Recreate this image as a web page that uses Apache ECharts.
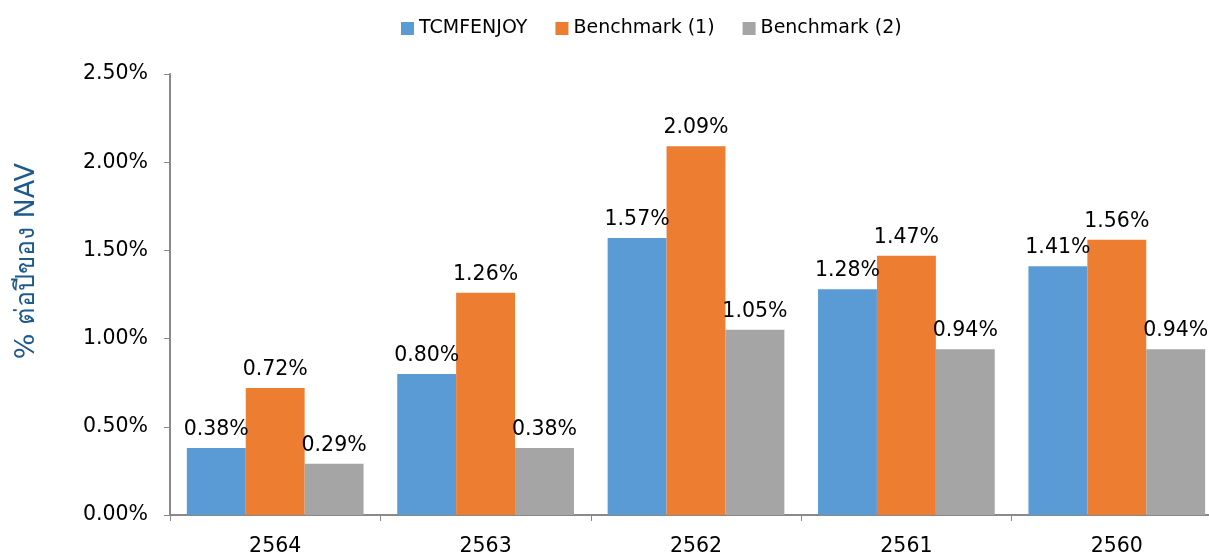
<!DOCTYPE html>
<html><head><meta charset="utf-8">
<script src="https://cdn.jsdelivr.net/npm/echarts@6/dist/echarts.min.js"></script>
<style>html,body{margin:0;padding:0;background:#fff}#c{width:1209px;height:552px}</style>
</head><body><div id="c"></div>
<script>
const categories = ['2564','2563','2562','2561','2560'];
const seriesNames = ['TCMFENJOY','Benchmark (1)','Benchmark (2)'];
const fundValues = [0.38, 0.80, 1.57, 1.28, 1.41];
const bench1Values = [0.72, 1.26, 2.09, 1.47, 1.56];
const bench2Values = [0.29, 0.38, 1.05, 0.94, 0.94];
const colors = ['#5B9BD5','#ED7D31','#A5A5A5'];
const FONT = 'DejaVu Sans';

const chart = echarts.init(document.getElementById('c'), null, {renderer:'canvas'});
const mk = (name, data, color) => ({
  name, type:'bar', data, barGap:'0%', barCategoryGap:'16%',
  itemStyle:{color},
  label:{show:true, position:'top', distance:8, color:'#000', fontFamily:FONT, fontSize:20.5,
    formatter:p=>p.value.toFixed(2)+'%'}
});
chart.setOption({
  animation:false,
  textStyle:{fontFamily:FONT},
  legend:{top:14, left:396, itemWidth:13, itemHeight:13, itemGap:28, icon:'rect',
    textStyle:{fontFamily:FONT, fontSize:19, color:'#000'}, data:seriesNames},
  grid:{left:170, top:74, width:1052, height:441, outerBoundsMode:'none'},
  xAxis:{type:'category', data:categories,
    axisLine:{lineStyle:{color:'#898989', width:2}},
    axisTick:{show:true, length:6, lineStyle:{color:'#898989'}},
    axisLabel:{color:'#000', fontFamily:FONT, fontSize:20.5, margin:21}},
  yAxis:{type:'value', min:0, max:2.5, interval:0.5,
    axisLine:{show:true, lineStyle:{color:'#898989', width:2}},
    axisTick:{show:true, length:6, lineStyle:{color:'#898989'}},
    splitLine:{show:false},
    axisLabel:{color:'#000', fontFamily:FONT, fontSize:20.5, margin:22, formatter:v=>v.toFixed(2)+'%'}},
  graphic:[{type:'text', left:13, top:163, rotation:Math.PI/2,
    style:{text:'% ต่อปีของ NAV', fill:'#1F5A8C', font:'27px "DejaVu Sans", "Noto Sans"'}}],
  series:[mk(seriesNames[0], fundValues, colors[0]), mk(seriesNames[1], bench1Values, colors[1]), mk(seriesNames[2], bench2Values, colors[2])]
});
</script></body></html>
